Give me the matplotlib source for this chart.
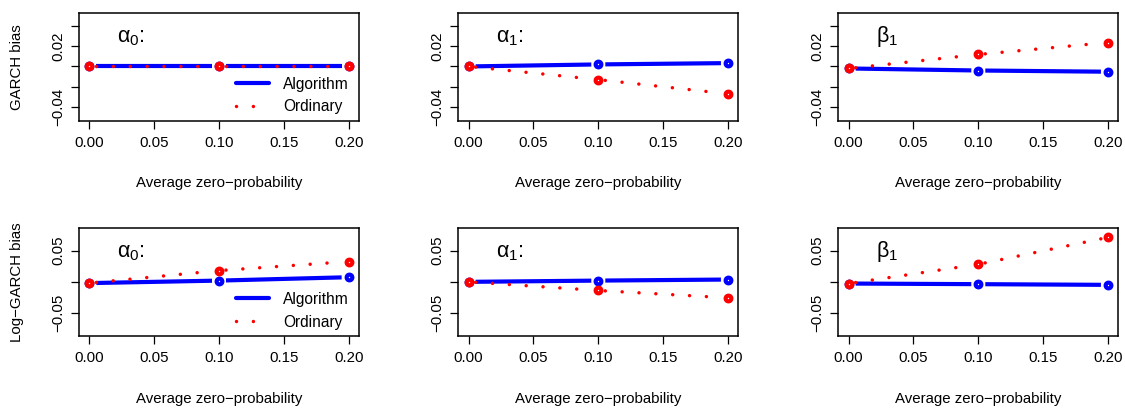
import matplotlib
matplotlib.use("Agg")
import matplotlib.pyplot as plt
from matplotlib.lines import Line2D
import numpy as np

plt.rcParams['font.family'] = ['Liberation Sans', 'DejaVu Sans']
plt.rcParams['mathtext.fontset'] = 'custom'
plt.rcParams['mathtext.rm'] = 'Liberation Sans'
plt.rcParams['mathtext.it'] = 'Liberation Sans'
plt.rcParams['mathtext.bf'] = 'Liberation Sans:bold'

# ---------------- data ----------------
zero_prob = [0.0, 0.1, 0.2]
params = [r"$\alpha_0$:", r"$\alpha_1$:", r"$\beta_1$"]
row_labels = ["GARCH bias", "Log\u2212GARCH bias"]

garch_alg = [[0.0, 0.0, 0.0],
             [0.0, 0.002, 0.0033],
             [-0.002, -0.004, -0.0052]]
garch_ord = [[0.0, 0.0, 0.0],
             [0.0, -0.013, -0.027],
             [-0.002, 0.0118, 0.0236]]
loggarch_alg = [[-0.002, 0.002, 0.0074],
                [0.0, 0.002, 0.0037],
                [-0.0027, -0.0037, -0.0048]]
loggarch_ord = [[-0.002, 0.018, 0.0324],
                [0.0, -0.0138, -0.0255],
                [-0.0027, 0.028, 0.071]]

xticks = [0.0, 0.05, 0.10, 0.15, 0.20]
xticklabels = ["0.00", "0.05", "0.10", "0.15", "0.20"]
yticks_rows = [[-0.04, -0.02, 0.0, 0.02, 0.04], [-0.05, 0.0, 0.05]]
yticklabels_rows = [["\u22120.04", "", "", "0.02", ""], ["\u22120.05", "", "0.05"]]
ylims = [(-0.0537, 0.0530), (-0.0868, 0.0860)]
xlim = (-0.008, 0.208)

BLUE = "#0000FF"
RED = "#FF0000"
FS = 10.8

fig = plt.figure(figsize=(11.25, 4.08), dpi=100)
W, H = 1125, 408
lefts = [79, 458.3, 838.3]
tops = [12.7, 228]
bw, bh = 280, 108.2

GAP = 7.0  # px gap around points (type="b")
DOT_LW = 2.5
DOT_STYLE = (0, (0.01, 4.85))


def draw_b(ax, x, y, color, dotted, zorder):
    trans = ax.transData
    pts = trans.transform(np.column_stack([x, y]))
    inv = trans.inverted()
    for i in range(len(pts) - 1):
        p0, p1 = pts[i], pts[i + 1]
        d = p1 - p0
        L = np.hypot(*d)
        if L <= 2 * GAP:
            continue
        u = d / L
        a = inv.transform(p0 + u * GAP)
        b = inv.transform(p1 - u * GAP)
        if dotted:
            ax.plot([a[0], b[0]], [a[1], b[1]], color=color, lw=DOT_LW,
                    linestyle=DOT_STYLE, dash_capstyle='round',
                    solid_capstyle='round', zorder=zorder)
        else:
            ax.plot([a[0], b[0]], [a[1], b[1]], color=color, lw=3.0,
                    solid_capstyle='butt', zorder=zorder)
    ax.plot(x, y, linestyle='none', marker='o', ms=4.1, mew=3.0,
            mec=color, mfc='white', zorder=zorder + 0.5)


for r in range(2):
    alg = garch_alg if r == 0 else loggarch_alg
    ordn = garch_ord if r == 0 else loggarch_ord
    for c in range(3):
        ax = fig.add_axes([lefts[c] / W, 1 - (tops[r] + bh) / H, bw / W, bh / H])
        ax.set_xlim(*xlim)
        ax.set_ylim(*ylims[r])
        for s in ax.spines.values():
            s.set_linewidth(1.1)
        ax.set_xticks(xticks)
        ax.set_xticklabels(xticklabels, fontsize=FS)
        ax.set_yticks(yticks_rows[r])
        ax.set_yticklabels(yticklabels_rows[r], fontsize=FS, rotation=90,
                           va='center')
        ax.tick_params(axis='both', direction='out', length=6, width=0.9,
                       pad=5, colors='black')
        ax.tick_params(axis='y', pad=4)

        ax.set_xlabel("Average zero\u2212probability", fontsize=FS)
        ax.xaxis.set_label_coords(0.5, -62.3 / bh)
        ax.xaxis.label.set_va('center')
        if c == 0:
            ax.set_ylabel(row_labels[r], fontsize=FS)
            ax.yaxis.set_label_coords(-62 / bw, 0.5)
            ax.yaxis.label.set_va('center')

        fig.canvas.draw()
        draw_b(ax, zero_prob, alg[c], BLUE, False, 3)
        draw_b(ax, zero_prob, ordn[c], RED, True, 4)

        ax.text(0.135, 0.73, params[c], transform=ax.transAxes,
                fontsize=15.5, ha='left', va='baseline')

        if c == 0:
            handles = [Line2D([], [], color=BLUE, lw=3.0, solid_capstyle='round'),
                       Line2D([], [], color=RED, lw=DOT_LW, linestyle=DOT_STYLE,
                              dash_capstyle='round')]
            ax.legend(handles, ["Algorithm", "Ordinary"], loc='upper left',
                      bbox_to_anchor=(0.562, 0.41), frameon=False,
                      fontsize=11.2, handlelength=2.1, handletextpad=0.9,
                      labelspacing=0.5, borderpad=0, borderaxespad=0)

fig.savefig("out.png", dpi=100)
